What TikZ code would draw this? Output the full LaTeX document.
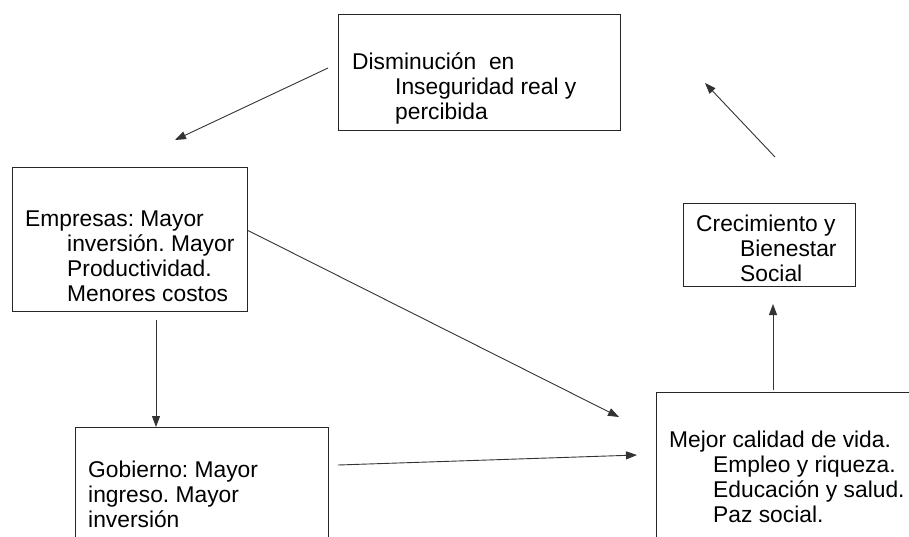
\documentclass[tikz,border=0pt]{standalone}
\usepackage{fontspec}
\setmainfont{Liberation Sans}
\frenchspacing
\usetikzlibrary{arrows.meta}
\begin{document}
\begin{tikzpicture}[x=1pt,y=-1pt,
  boxnode/.style={draw=black!85, line width=0.9pt, anchor=north west, inner sep=0pt},
  txt/.style={anchor=base west, align=left, inner sep=0pt, font=\fontsize{22.8}{25}\selectfont},
  arr/.style={draw=black!80, line width=0.9pt, -{Triangle[length=11pt,width=8pt]}}]
\useasboundingbox (0,0) rectangle (909,536);
\clip (0,0) rectangle (909,536);
% boxes
\node[boxnode, minimum width=282pt, minimum height=116pt] (top) at (338,14) {};
\node[boxnode, minimum width=235pt, minimum height=144pt] (emp) at (12,167) {};
\node[boxnode, minimum width=253pt, minimum height=140pt] (gob) at (75,427) {};
\node[boxnode, minimum width=280pt, minimum height=170pt] (vida) at (656,392) {};
\node[boxnode, minimum width=172pt, minimum height=83pt] (crec) at (683,203) {};
% texts (anchor = baseline of last line)
\node[txt] (toptxt) at (352,119) {Disminución\ \ en\\\hspace*{43pt}Inseguridad real y\\\hspace*{43pt}percibida};
\node[txt] (emptxt) at (25,301) {Empresas: Mayor\\\hspace*{42pt}inversión. Mayor\\\hspace*{42pt}Productividad.\\\hspace*{42pt}Menores costos};
\node[txt] (gobtxt) at (88,527) {Gobierno: Mayor\\ingreso. Mayor\\inversión};
\node[txt] (vidatxt) at (669,522) {Mejor calidad de vida.\\\hspace*{44pt}Empleo y riqueza.\\\hspace*{44pt}Educación y salud.\\\hspace*{44pt}Paz social.};
\node[txt] (crectxt) at (696,281) {Crecimiento y\\\hspace*{44pt}Bienestar\\\hspace*{44pt}Social};
% connector ends
\coordinate (a1s) at (328,68);  \coordinate (a1e) at (175,140);
\coordinate (a2s) at (775,157); \coordinate (a2e) at (705,83);
\coordinate (a3s) at (773,390); \coordinate (a3e) at (773,304);
\coordinate (a4s) at (156,320); \coordinate (a4e) at (156,427);
\coordinate (a5s) at (247,230); \coordinate (a5e) at (619,417);
\coordinate (a6s) at (338,465); \coordinate (a6e) at (637,455);
\draw[arr] (a1s) -- (a1e);
\draw[arr] (a2s) -- (a2e);
\draw[arr] (a3s) -- (a3e);
\draw[arr] (a4s) -- (a4e);
\draw[arr] (a5s) -- (a5e);
\draw[arr] (a6s) -- (a6e);
\end{tikzpicture}
\end{document}
